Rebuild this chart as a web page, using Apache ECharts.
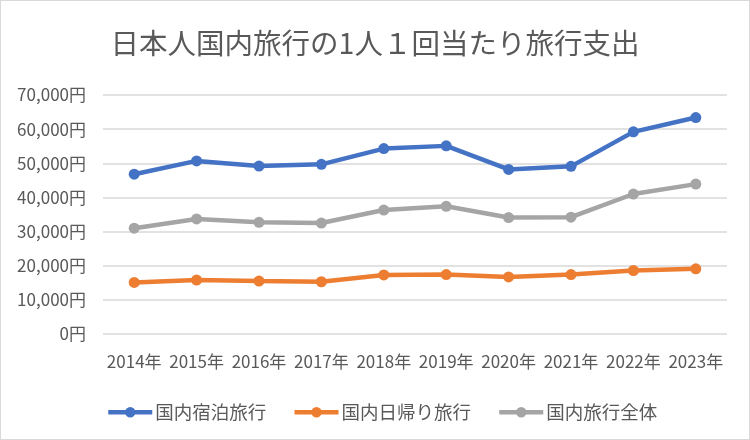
<!DOCTYPE html>
<html><head><meta charset="utf-8">
<script src="https://cdn.jsdelivr.net/npm/echarts@6/dist/echarts.min.js"></script>
<style>html,body{margin:0;padding:0;background:#fff}
#c{position:absolute;left:0;top:0;width:748px;height:438px;border:1px solid #d9d9d9;}</style>
</head><body><div id="c"></div>
<script>
const categories = ['2014年','2015年','2016年','2017年','2018年','2019年','2020年','2021年','2022年','2023年'];
const stay = [46800, 50700, 49200, 49700, 54300, 55100, 48200, 49100, 59200, 63400];
const dayTrip = [15100, 15800, 15500, 15300, 17300, 17400, 16700, 17400, 18600, 19100];
const total = [31000, 33700, 32700, 32500, 36300, 37400, 34100, 34200, 41000, 43900];
const seriesNames = ['国内宿泊旅行','国内日帰り旅行','国内旅行全体'];
const colors = ['#4472C4','#ED7D31','#A5A5A5'];
const font = '"Noto Sans CJK JP", "Noto Sans", sans-serif';
const chart = echarts.init(document.getElementById('c'));
const mk = (name, data, color) => ({
  name, type:'line', data, symbol:'circle', symbolSize:11,
  lineStyle:{width:4.5, color}, itemStyle:{color}, emphasis:{disabled:true}
});
chart.setOption({
  animation:false,
  title:{text:'日本人国内旅行の1人１回当たり旅行支出', left:'center', top:23,
    textStyle:{fontFamily:font, fontSize:28.5, fontWeight:'normal', color:'#595959'}},
  grid:{left:102, right:22, top:94, bottom:105},
  legend:{top:397, left:100, itemWidth:44, itemHeight:13, itemGap:26,
    lineStyle:{width:4.5},
    textStyle:{fontFamily:font, fontSize:18.5, color:'#595959', padding:[0,0,0,-2]},
    data:seriesNames},
  xAxis:{type:'category', data:categories, boundaryGap:true,
    axisLine:{show:false}, axisTick:{show:false},
    axisLabel:{fontFamily:font, fontSize:17, color:'#595959', margin:19, interval:0}},
  yAxis:{type:'value', min:0, max:70000, interval:10000,
    axisLine:{show:false}, axisTick:{show:false},
    splitLine:{lineStyle:{color:'#d9d9d9', width:1.5}},
    axisLabel:{fontFamily:font, fontSize:17, color:'#595959', margin:17,
      formatter:v=>v.toLocaleString('en-US')+'円'}},
  series:[mk(seriesNames[0], stay, colors[0]), mk(seriesNames[1], dayTrip, colors[1]), mk(seriesNames[2], total, colors[2])]
});
</script></body></html>
